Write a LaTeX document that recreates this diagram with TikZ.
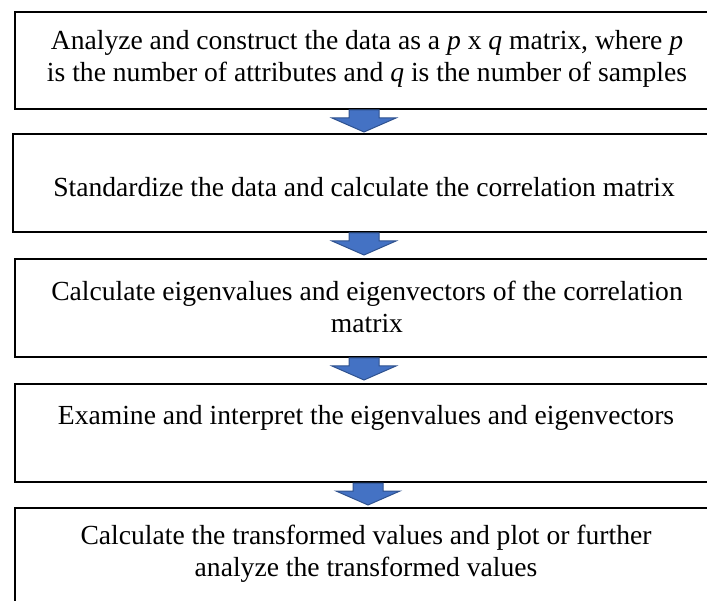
\documentclass[tikz,border=0pt]{standalone}
\usepackage{fontspec}
\setmainfont{Liberation Serif}
\usetikzlibrary{calc}
\definecolor{arrowfill}{HTML}{4472C4}
\definecolor{arrowedge}{HTML}{2F528F}
\begin{document}
\begin{tikzpicture}[x=1pt,y=-1pt,
  stepbox/.style={draw=black,line width=2.6pt,fill=none},
  steptext/.style={font=\fontsize{27.6}{32}\selectfont,align=center,inner sep=0pt},
  blkarrow/.style={fill=arrowfill,draw=arrowedge,line width=1pt,line join=miter}]
\useasboundingbox (0,0) rectangle (707,601);
\draw[stepbox] (15,12) rectangle (713,109);
\draw[stepbox] (13,134) rectangle (713,232);
\draw[stepbox] (15,259) rectangle (713,357);
\draw[stepbox] (15,384) rectangle (713,482);
\draw[stepbox] (15,508) rectangle (713,610);
\coordinate (b1) at (364,109);
\coordinate (b2) at (364,232);
\coordinate (b3) at (364,357);
\coordinate (b4) at (368,482);
\node[steptext] (t1) at (367,59) {Analyze and construct the data as a \textit{p} x \textit{q} matrix, where \textit{p}\\is the number of attributes and \textit{q} is the number of samples};
\node[steptext] (t2) at (364,187) {Standardize the data and calculate the correlation matrix};
\node[steptext] (t3) at (367,307) {Calculate eigenvalues and eigenvectors of the correlation\\matrix};
\node[steptext] (t4) at (366,418) {Examine and interpret the eigenvalues and eigenvectors};
\node[steptext] (t5) at (366,554) {Calculate the transformed values and plot or further\\analyze the transformed values};
\foreach \b in {b1,b2,b3,b4}{
  \draw[blkarrow] ($(\b)+(-15,1)$) -- ($(\b)+(15,1)$) -- ($(\b)+(15,9)$) -- ($(\b)+(32,9)$) -- ($(\b)+(0,23)$) -- ($(\b)+(-32,9)$) -- ($(\b)+(-15,9)$) -- cycle;
}
\end{tikzpicture}
\end{document}
